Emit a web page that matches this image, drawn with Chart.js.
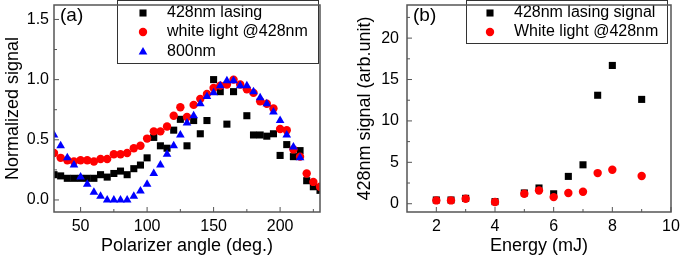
<!DOCTYPE html>
<html>
<head>
<meta charset="utf-8">
<script src="https://cdn.jsdelivr.net/npm/chart.js@4.4.1/dist/chart.umd.min.js"></script>
<style>
  body { margin: 0; background: #fff; }
  #wrap { position: relative; width: 680px; height: 257px; }
  canvas { position: absolute; top: 0; }
</style>
</head>
<body>
<div id="wrap">
  <canvas id="chartA" width="340" height="257" style="left:0"></canvas>
  <canvas id="chartB" width="340" height="257" style="left:340px"></canvas>
</div>
<script>
// Panneau (a) : signal normalisé vs angle du polariseur
const angles = [30, 35, 40, 45, 50, 55, 60, 65, 70, 75, 80, 85, 90, 95, 100, 105, 110, 115, 120, 125,
  130, 135, 140, 145, 150, 155, 160, 165, 170, 175, 180, 185, 190, 195, 200, 205, 210, 215, 220, 225, 230];
const lasingA = [0.21, 0.20, 0.18, 0.18, 0.18, 0.18, 0.18, 0.21, 0.19, 0.22, 0.24, 0.21, 0.26, 0.29, 0.35, 0.52, 0.45, 0.43, 0.58, 0.67,
  0.45, 0.66, 0.55, 0.66, 1.00, 0.90, 0.63, 0.90, null, 0.70, 0.54, 0.54, 0.53, 0.55, 0.37, 0.46, 0.36, 0.41, 0.16, 0.11, 0.08];
const whiteA = [0.39, 0.35, 0.33, 0.32, 0.33, 0.33, 0.32, 0.34, 0.34, 0.38, 0.38, 0.39, 0.43, 0.45, 0.51, 0.57, 0.57, 0.61, 0.70, 0.77,
  0.69, 0.79, 0.84, 0.88, 0.93, 0.95, 0.96, 1.00, 0.96, 0.92, 0.89, 0.82, 0.80, 0.76, 0.59, 0.58, 0.42, 0.36, 0.22, 0.15, 0.11];
const ir800 = [0.54, 0.45, 0.35, 0.29, 0.19, 0.13, 0.065, 0.03, 0.0, 0.0, 0.0, 0.0, 0.03, 0.075, 0.13, 0.22, 0.29, 0.38, 0.45, 0.54,
  0.64, 0.70, 0.80, 0.86, 0.89, 0.95, 0.99, 0.99, 0.95, 0.95, 0.90, 0.85, 0.80, 0.73, 0.66, 0.54, 0.44, 0.35, null, null, null];
const xTicksA = [50, 100, 150, 200];
const xMinorA = [75, 125, 175, 225];
const yTicksA = [0, 0.5, 1.0, 1.5];
const yMinorA = [0.25, 0.75, 1.25];

// Panneau (b) : signal à 428nm vs énergie
const energy = [2, 2.5, 3, 4, 5, 5.5, 6, 6.5, 7, 7.5, 8, 9];
const lasingB = [0.45, 0.45, 0.65, 0.25, 1.3, 1.9, 1.2, 3.3, 4.7, 13.1, 16.7, 12.6];
const whiteB = [0.4, 0.4, 0.6, 0.2, 1.2, 1.6, 0.8, 1.3, 1.45, 3.7, 4.1, 3.35];
const xTicksB = [2, 4, 6, 8, 10];
const xMinorB = [3, 5, 7, 9];
const yTicksB = [0, 5, 10, 15, 20];
const yMinorB = [2.5, 7.5, 12.5, 17.5, 22.5];

const FONT = "'Liberation Sans', Arial, Helvetica, sans-serif";
Chart.defaults.font.family = FONT;
Chart.defaults.color = "#000";

const toPoints = (xs, ys) =>
  xs.map((x, i) => ({ x: x, y: ys[i] })).filter((p) => p.y !== null);

// Pas de marge automatique autour des axes
const noPad = (s) => {
  s.paddingTop = 0;
  s.paddingBottom = 0;
  s.paddingLeft = 0;
  s.paddingRight = 0;
};

// Cadre complet + graduations intérieures
const makeFrame = (xMinor, yMinor) => ({
  id: "frame",
  afterDraw(chart) {
    const { ctx, chartArea: a, scales } = chart;
    ctx.save();
    ctx.strokeStyle = "#555";
    ctx.lineWidth = 1.5;
    ctx.strokeRect(a.left, a.top, a.right - a.left, a.bottom - a.top);
    ctx.lineWidth = 1;
    ctx.beginPath();
    const xt = (v, len) => {
      const px = scales.x.getPixelForValue(v);
      ctx.moveTo(px, a.bottom);
      ctx.lineTo(px, a.bottom - len);
    };
    const yt = (v, len) => {
      const py = scales.y.getPixelForValue(v);
      ctx.moveTo(a.left, py);
      ctx.lineTo(a.left + len, py);
    };
    scales.x.ticks.forEach((t) => xt(t.value, 5));
    xMinor.forEach((v) => xt(v, 3));
    scales.y.ticks.forEach((t) => yt(t.value, 5));
    yMinor.forEach((v) => yt(v, 3));
    ctx.stroke();
    ctx.restore();
  },
});

// Légende encadrée dans la zone du graphique
const makeLegend = (box) => ({
  id: "boxLegend",
  afterDatasetsDraw(chart) {
    const { ctx } = chart;
    ctx.save();
    ctx.fillStyle = "#fff";
    ctx.fillRect(box.x, box.y, box.w, box.h);
    ctx.strokeStyle = "#333";
    ctx.lineWidth = 1;
    ctx.strokeRect(box.x + 0.5, box.y + 0.5, box.w, box.h);
    chart.data.datasets.forEach((ds, i) => {
      const y = box.rows[i];
      ctx.fillStyle = ds.backgroundColor;
      Chart.helpers.drawPoint(ctx, { pointStyle: ds.pointStyle, radius: ds.pointRadius, borderWidth: 0, rotation: 0 }, box.markerX, y);
      ctx.fillStyle = "#000";
      ctx.font = "16px " + FONT;
      ctx.textBaseline = "middle";
      ctx.textAlign = "left";
      ctx.fillText(ds.label, box.textX, y);
    });
    ctx.font = "19px " + FONT;
    ctx.textBaseline = "middle";
    ctx.fillText(box.tag, box.tagX, 16);
    ctx.restore();
  },
});

const axisX = (min, max, ticks, title, height) => ({
  type: "linear",
  min: min,
  max: max,
  afterBuildTicks: (s) => { s.ticks = ticks.map((v) => ({ value: v })); },
  afterFit: (s) => { s.height = height; noPad(s); },
  grid: { display: false, drawTicks: false },
  border: { display: false },
  ticks: { font: { size: 16 }, padding: 5, autoSkip: false, maxRotation: 0 },
  title: { display: true, text: title, font: { size: 18 }, padding: { top: 0, bottom: 0 } },
});

const axisY = (min, max, ticks, title, width, pad, titlePad, fmt) => ({
  type: "linear",
  min: min,
  max: max,
  afterBuildTicks: (s) => { s.ticks = ticks.map((v) => ({ value: v })); },
  afterFit: (s) => { s.width = width; noPad(s); },
  grid: { display: false, drawTicks: false },
  border: { display: false },
  ticks: { font: { size: 16 }, padding: pad, callback: fmt },
  title: { display: true, text: title, font: { size: 18 }, padding: { top: titlePad, bottom: 0 } },
});

const baseOptions = {
  responsive: false,
  animation: false,
  devicePixelRatio: 1,
  plugins: { legend: { display: false }, tooltip: { enabled: false } },
};

new Chart(document.getElementById("chartA"), {
  type: "scatter",
  data: {
    datasets: [
      { label: "428nm lasing", data: toPoints(angles, lasingA), pointStyle: "rect", pointRadius: 5, backgroundColor: "#000", borderWidth: 0, order: 3 },
      { label: "white light @428nm", data: toPoints(angles, whiteA), pointStyle: "circle", pointRadius: 4.2, backgroundColor: "#ff0000", borderWidth: 0, order: 2 },
      { label: "800nm", data: toPoints(angles, ir800), pointStyle: "triangle", pointRadius: 5, backgroundColor: "#0000ff", borderWidth: 0, order: 1 },
    ],
  },
  options: {
    ...baseOptions,
    layout: { padding: { top: 1, right: 20, left: 0, bottom: 0 } },
    scales: {
      x: axisX(30, 230, xTicksA, "Polarizer angle (deg.)", 45),
      y: axisY(-0.1, 1.62, yTicksA, "Normalized signal", 54, 5, 2, (v) => v.toFixed(1)),
    },
  },
  plugins: [makeFrame(xMinorA, yMinorA), makeLegend({ x: 117, y: 0, w: 201, h: 63, markerX: 143, textX: 167, rows: [13, 32, 52], tag: "(a)", tagX: 60 })],
});

new Chart(document.getElementById("chartB"), {
  type: "scatter",
  data: {
    datasets: [
      { label: "428nm lasing signal", data: toPoints(energy, lasingB), pointStyle: "rect", pointRadius: 5, backgroundColor: "#000", borderWidth: 0, order: 2 },
      { label: "White light @428nm", data: toPoints(energy, whiteB), pointStyle: "circle", pointRadius: 4.2, backgroundColor: "#ff0000", borderWidth: 0, order: 1 },
    ],
  },
  options: {
    ...baseOptions,
    layout: { padding: { top: 1, right: 9, left: 0, bottom: 0 } },
    scales: {
      x: axisX(1, 10, xTicksB, "Energy (mJ)", 45),
      y: axisY(-1, 24, yTicksB, "428nm signal (arb.unit)", 67, 8, 14, (v) => String(v)),
    },
  },
  plugins: [makeFrame(xMinorB, yMinorB), makeLegend({ x: 126, y: 0, w: 201, h: 43, markerX: 150, textX: 174, rows: [13, 32], tag: "(b)", tagX: 73 })],
});
</script>
</body>
</html>
